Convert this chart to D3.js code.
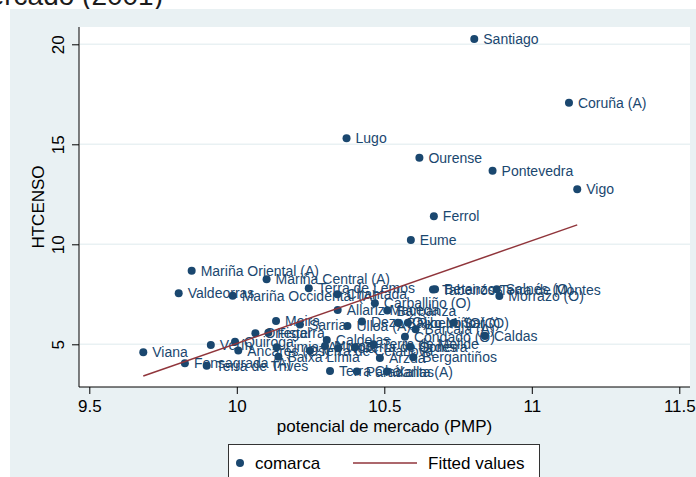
<!DOCTYPE html>
<html>
<head>
<meta charset="utf-8">
<script src="https://cdn.jsdelivr.net/npm/d3@7"></script>
<style>
  body { margin: 0; background: #fff; }
  svg { display: block; }
  text { font-family: "Liberation Sans", Arial, Helvetica, sans-serif; }
</style>
</head>
<body>
<svg id="chart" width="696" height="477"></svg>
<script>
// Comarcas: market potential (PMP) vs HTCENSO
const comarcas = [
  "Santiago", "Coruña (A)", "Lugo", "Ourense", "Pontevedra", "Vigo", "Ferrol", "Eume",
  "Mariña Oriental (A)", "Mariña Central (A)", "Valdeorras", "Mariña Occidental (A)",
  "Terra de Lemos", "Chantada", "Betanzos", "Tabeirós-Terra de Montes", "Salnés (O)",
  "Morrazo (O)", "Carballiño (O)", "Allariz-Maceda", "Barbanza", "Meira", "Sarria",
  "Ulloa (A)", "Deza (O)", "Baixo Miño (O)", "Ribeiro (O)", "Sar (O)", "Barcala (A)",
  "Condado (O)", "Caldas", "Viana", "Fonsagrada (A)", "Terra de Trives", "Verín",
  "Quiroga", "Ancares (Os)", "Ortegal", "Fisterra", "Limia (A)", "Baixa Limia",
  "Terra de Celanova", "Caldelas", "Muros", "Noia", "Terra de Soneira", "Terra de Melide",
  "Ordes", "Arzúa", "Bergantiños", "Terra Chá", "Paradanta (A)", "Xallas"
];
const pmp = [
  10.805, 11.126, 10.372, 10.619, 10.867, 11.154, 10.668, 10.590,
  9.847, 10.101, 9.803, 9.986,
  10.244, 10.341, 10.672, 10.665, 10.881,
  10.890, 10.468, 10.342, 10.510, 10.133, 10.214,
  10.375, 10.424, 10.546, 10.580, 10.736, 10.606,
  10.570, 10.841, 9.683, 9.824, 9.898, 9.912,
  9.994, 10.005, 10.063, 10.107, 10.135, 10.141,
  10.248, 10.305, 10.299, 10.344, 10.401, 10.463,
  10.587, 10.485, 10.598, 10.316, 10.407, 10.509
];
const htcenso = [
  20.27, 17.08, 15.30, 14.33, 13.68, 12.75, 11.40, 10.22,
  8.68, 8.25, 7.55, 7.43,
  7.80, 7.50, 7.75, 7.74, 7.75,
  7.42, 7.05, 6.72, 6.69, 6.17, 5.99,
  5.92, 6.14, 6.08, 6.08, 6.08, 5.75,
  5.38, 5.42, 4.60, 4.05, 3.93, 4.97,
  5.13, 4.69, 5.55, 5.58, 4.85, 4.38,
  4.68, 5.22, 4.92, 4.80, 4.85, 5.00,
  4.88, 4.32, 4.35, 3.67, 3.64, 3.64
];
// Linear fit (Fitted values) at the extremes of PMP
const fitPmp = [9.683, 11.154];
const fitHtcenso = [3.415, 10.97];

const xTicks = [9.5, 10, 10.5, 11, 11.5];
const xTickLabels = ["9.5", "10", "10.5", "11", "11.5"];
const yTicks = [5, 10, 15, 20];
const yTickLabels = ["5", "10", "15", "20"];
const legendLabels = ["comarca", "Fitted values"];
const titleText = "Potencial de mercado (2001)";
const xTitle = "potencial de mercado (PMP)";
const yTitle = "HTCENSO";

const navy = "#1a476f";
const maroon = "#90353b";
const bgBlue = "#e9f1f3";

const svg = d3.select("#chart");

// page heading above the graph
svg.append("text")
  .attr("x", 163).attr("y", 5)
  .attr("text-anchor", "end")
  .attr("font-size", 28)
  .attr("fill", "#1c1c1c")
  .text(titleText);

// graph region
svg.append("rect")
  .attr("x", 10).attr("y", 9).attr("width", 686).attr("height", 468)
  .attr("fill", bgBlue);

const plot = { left: 79, right: 690, top: 27, bottom: 387 };

// plot region
svg.append("rect")
  .attr("x", plot.left).attr("y", plot.top)
  .attr("width", plot.right - plot.left).attr("height", plot.bottom - plot.top)
  .attr("fill", "#fff");

const x = d3.scaleLinear().domain([9.5, 11.5]).range([89.3, 679.3]);
const y = d3.scaleLinear().domain([5, 20]).range([344.3, 44.3]);

// horizontal grid
svg.append("g").selectAll("line").data(yTicks).join("line")
  .attr("x1", plot.left + 1).attr("x2", plot.right)
  .attr("y1", d => y(d)).attr("y2", d => y(d))
  .attr("stroke", bgBlue).attr("stroke-width", 1.5);

// y axis
const yAxis = svg.append("g")
  .attr("transform", `translate(${plot.left},0)`)
  .call(d3.axisLeft(y).tickValues(yTicks).tickSize(7).tickSizeOuter(0)
    .tickFormat((d, i) => yTickLabels[i]));
yAxis.select(".domain").remove();
yAxis.selectAll(".tick line").attr("stroke", "#000");
yAxis.selectAll(".tick text")
  .attr("x", null).attr("dy", null)
  .attr("text-anchor", "middle")
  .attr("transform", "translate(-15,0) rotate(-90)")
  .attr("font-size", 17)
  .attr("fill", "#000");

// x axis
const xAxis = svg.append("g")
  .attr("transform", `translate(0,${plot.bottom})`)
  .call(d3.axisBottom(x).tickValues(xTicks).tickSize(7).tickSizeOuter(0).tickPadding(6)
    .tickFormat((d, i) => xTickLabels[i]));
xAxis.select(".domain").remove();
xAxis.selectAll(".tick line").attr("stroke", "#000");
xAxis.selectAll(".tick text").attr("font-size", 17).attr("fill", "#000");

// axis lines
svg.append("line")
  .attr("x1", plot.left).attr("x2", plot.left)
  .attr("y1", plot.top).attr("y2", plot.bottom)
  .attr("stroke", "#000").attr("stroke-width", 1);
svg.append("line")
  .attr("x1", plot.left).attr("x2", plot.right)
  .attr("y1", plot.bottom).attr("y2", plot.bottom)
  .attr("stroke", "#000").attr("stroke-width", 1);

// axis titles
svg.append("text")
  .attr("x", (plot.left + plot.right) / 2).attr("y", 432)
  .attr("text-anchor", "middle").attr("font-size", 17).attr("fill", "#000")
  .text(xTitle);
svg.append("text")
  .attr("transform", `translate(44,${(plot.top + plot.bottom) / 2}) rotate(-90)`)
  .attr("text-anchor", "middle").attr("font-size", 17).attr("fill", "#000")
  .text(yTitle);

// points with labels
const points = comarcas.map((name, i) => ({ name, pmp: pmp[i], htc: htcenso[i] }));

const pts = svg.append("g");
pts.selectAll("circle").data(points).join("circle")
  .attr("cx", d => x(d.pmp)).attr("cy", d => y(d.htc))
  .attr("r", 4).attr("fill", navy);
pts.selectAll("text").data(points).join("text")
  .attr("x", d => x(d.pmp) + 9).attr("y", d => y(d.htc) + 5)
  .attr("font-size", 14).attr("fill", navy)
  .text(d => d.name);

// fitted line
const fit = fitPmp.map((v, i) => [v, fitHtcenso[i]]);
svg.append("path")
  .datum(fit)
  .attr("d", d3.line().x(d => x(d[0])).y(d => y(d[1])))
  .attr("fill", "none").attr("stroke", maroon).attr("stroke-width", 1.5);

// legend
const lg = svg.append("g");
lg.append("rect")
  .attr("x", 228.5).attr("y", 444.5).attr("width", 311).attr("height", 40)
  .attr("fill", "#fff").attr("stroke", "#333").attr("stroke-width", 1);
lg.append("circle").attr("cx", 240).attr("cy", 463).attr("r", 4).attr("fill", navy);
lg.append("text").attr("x", 255).attr("y", 469).attr("font-size", 17).attr("fill", "#000")
  .text(legendLabels[0]);
lg.append("line").attr("x1", 353).attr("x2", 417).attr("y1", 463).attr("y2", 463)
  .attr("stroke", maroon).attr("stroke-width", 1.5);
lg.append("text").attr("x", 428).attr("y", 469).attr("font-size", 17).attr("fill", "#000")
  .text(legendLabels[1]);
</script>
</body>
</html>
